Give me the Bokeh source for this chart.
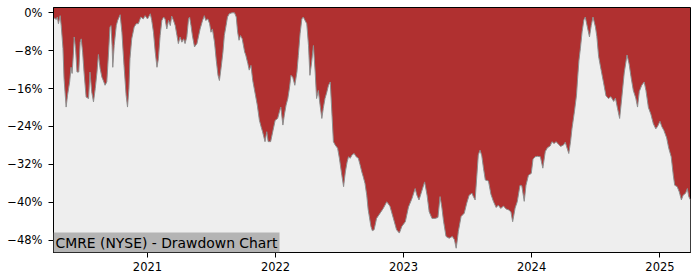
import pandas as pd
from bokeh.plotting import figure
from bokeh.models import (Range1d, FixedTicker, Label, DatetimeTickFormatter,
                          CustomJSTickFormatter, ColumnDataSource)
from bokeh.embed import file_html
from bokeh.resources import INLINE

dates = [
    "2020-04-08", "2020-04-16", "2020-04-19", "2020-04-22", "2020-04-27", "2020-04-30",
    "2020-05-05", "2020-05-08", "2020-05-14", "2020-05-18", "2020-05-24", "2020-05-28",
    "2020-05-31", "2020-06-04", "2020-06-06", "2020-06-10", "2020-06-14", "2020-06-19",
    "2020-06-23", "2020-06-26", "2020-06-30", "2020-07-04", "2020-07-10", "2020-07-17",
    "2020-07-21", "2020-07-26", "2020-07-31", "2020-08-05", "2020-08-10", "2020-08-14",
    "2020-08-19", "2020-08-24", "2020-08-28", "2020-09-02", "2020-09-07", "2020-09-12",
    "2020-09-16", "2020-09-19", "2020-09-22", "2020-09-24", "2020-09-28", "2020-10-04",
    "2020-10-08", "2020-10-15", "2020-10-20", "2020-10-26", "2020-11-01", "2020-11-05",
    "2020-11-09", "2020-11-12", "2020-11-17", "2020-11-24", "2020-11-30", "2020-12-06",
    "2020-12-13", "2020-12-20", "2020-12-25",
    "2021-01-01", "2021-01-09", "2021-01-13", "2021-01-18", "2021-01-23", "2021-01-28",
    "2021-02-01", "2021-02-06", "2021-02-11", "2021-02-16", "2021-02-20", "2021-02-25",
    "2021-03-02", "2021-03-07", "2021-03-11", "2021-03-16", "2021-03-21", "2021-03-26",
    "2021-03-30", "2021-04-04", "2021-04-09", "2021-04-14", "2021-04-18", "2021-04-23",
    "2021-04-28", "2021-05-01", "2021-05-05", "2021-05-09", "2021-05-15", "2021-05-22",
    "2021-05-26", "2021-05-31", "2021-06-07", "2021-06-12", "2021-06-16", "2021-06-22",
    "2021-06-27", "2021-07-01", "2021-07-05", "2021-07-11", "2021-07-16", "2021-07-21",
    "2021-07-25", "2021-07-30", "2021-08-04", "2021-08-08", "2021-08-13", "2021-08-17",
    "2021-08-22", "2021-08-30", "2021-09-06", "2021-09-11", "2021-09-15", "2021-09-19",
    "2021-09-23", "2021-09-28", "2021-10-05", "2021-10-08", "2021-10-14", "2021-10-18",
    "2021-10-23", "2021-10-28", "2021-11-04", "2021-11-10", "2021-11-16", "2021-11-21",
    "2021-11-25", "2021-12-02", "2021-12-07", "2021-12-11", "2021-12-18", "2021-12-24",
    "2021-12-31",
    "2022-01-07", "2022-01-12", "2022-01-16", "2022-01-22", "2022-01-26", "2022-01-31",
    "2022-02-05", "2022-02-10", "2022-02-14", "2022-02-19", "2022-02-25", "2022-03-03",
    "2022-03-07", "2022-03-12", "2022-03-17", "2022-03-21", "2022-03-26", "2022-03-31",
    "2022-04-05", "2022-04-09", "2022-04-14", "2022-04-19", "2022-04-24", "2022-04-28",
    "2022-05-03", "2022-05-08", "2022-05-13", "2022-05-17", "2022-05-22", "2022-05-27",
    "2022-06-01", "2022-06-06", "2022-06-11", "2022-06-15", "2022-06-20", "2022-06-27",
    "2022-07-02", "2022-07-09", "2022-07-14", "2022-07-19", "2022-07-24", "2022-07-28",
    "2022-08-02", "2022-08-07", "2022-08-13", "2022-08-19", "2022-08-25", "2022-08-30",
    "2022-09-04", "2022-09-08", "2022-09-13", "2022-09-18", "2022-09-22", "2022-09-30",
    "2022-10-04", "2022-10-09", "2022-10-16", "2022-10-26", "2022-11-04", "2022-11-14",
    "2022-11-23", "2022-12-03", "2022-12-12", "2022-12-20", "2022-12-27",
    "2023-01-06", "2023-01-15", "2023-01-25", "2023-02-03", "2023-02-08", "2023-02-14",
    "2023-02-20", "2023-03-02", "2023-03-09", "2023-03-15", "2023-03-23", "2023-04-01",
    "2023-04-09", "2023-04-15", "2023-04-20", "2023-04-25", "2023-05-02", "2023-05-11",
    "2023-05-20", "2023-05-26", "2023-05-31", "2023-06-04", "2023-06-06", "2023-06-14",
    "2023-06-23", "2023-06-30", "2023-07-07", "2023-07-15", "2023-07-19", "2023-07-24",
    "2023-07-29", "2023-08-02", "2023-08-07", "2023-08-12", "2023-08-17", "2023-08-22",
    "2023-08-31", "2023-09-07", "2023-09-14", "2023-09-22", "2023-09-28", "2023-10-05",
    "2023-10-13", "2023-10-20", "2023-10-27", "2023-11-03", "2023-11-08", "2023-11-15",
    "2023-11-21", "2023-11-29", "2023-12-04", "2023-12-11", "2023-12-16", "2023-12-23",
    "2023-12-31",
    "2024-01-05", "2024-01-11", "2024-01-18", "2024-01-26", "2024-02-02", "2024-02-09",
    "2024-02-15", "2024-02-23", "2024-02-28", "2024-03-05", "2024-03-11", "2024-03-18",
    "2024-03-24", "2024-04-01", "2024-04-06", "2024-04-10", "2024-04-16", "2024-04-21",
    "2024-04-25", "2024-05-02", "2024-05-08", "2024-05-11", "2024-05-15", "2024-05-19",
    "2024-05-24", "2024-05-29", "2024-06-02", "2024-06-08", "2024-06-14", "2024-06-19",
    "2024-06-24", "2024-07-01", "2024-07-05", "2024-07-10", "2024-07-17", "2024-07-24",
    "2024-07-31", "2024-08-07", "2024-08-14", "2024-08-22", "2024-08-27", "2024-09-02",
    "2024-09-08", "2024-09-14", "2024-09-21", "2024-09-29", "2024-10-05", "2024-10-11",
    "2024-10-17", "2024-10-24", "2024-10-29", "2024-11-03", "2024-11-10", "2024-11-17",
    "2024-11-22", "2024-11-29", "2024-12-06", "2024-12-13", "2024-12-20", "2024-12-25",
    "2025-01-01", "2025-01-06", "2025-01-12", "2025-01-20", "2025-01-26", "2025-02-02",
    "2025-02-08", "2025-02-12", "2025-02-19", "2025-02-25", "2025-03-03", "2025-03-08",
    "2025-03-15", "2025-03-20", "2025-03-24", "2025-03-29",
]

drawdown = [
    -1.0, -1.4, -0.9, -2.3, -0.6, -2.7,
    -7.5, -13.8, -19.9, -17.4, -14.6, -11.5,
    -12.8, -8.3, -5.1, -7.6, -12.5, -12.5,
    -6.2, -5.5, -8.3, -12.5, -17.8, -18.1,
    -12.5, -16.7, -18.8, -16.0, -12.5, -8.8,
    -11.8, -13.6, -14.3, -15.3, -14.6, -8.3,
    -3.0, -2.7, -6.9, -11.5, -6.9, -2.7,
    -1.6, -0.4, -4.1, -11.1, -17.4, -19.9,
    -16.0, -9.7, -5.5, -3.0, -2.3, -2.3,
    -0.9, -1.3, -0.6,
    -1.3, -0.2, -1.6, -4.1, -8.3, -11.5,
    -9.7, -4.8, -1.6, -0.9, -1.3, -3.4,
    -1.6, -2.7, -0.7, -1.6, -2.7, -4.8,
    -6.5, -5.1, -6.2, -5.5, -6.5, -5.1,
    -1.3, -0.9, -2.7, -4.8, -7.2, -6.5,
    -5.1, -3.4, -1.6, -0.6, -1.6, -1.3,
    -2.3, -4.1, -3.4, -6.2, -10.0, -13.2,
    -14.3, -11.5, -8.3, -4.8, -2.7, -0.9,
    -0.2, 0.0, 0.0, -0.9, -4.1, -5.8,
    -4.8, -5.5, -8.3, -8.9, -10.7, -12.1,
    -11.1, -14.3, -17.1, -19.5, -22.7, -24.1,
    -25.1, -27.2, -25.1, -27.2, -27.2, -25.1,
    -22.7,
    -22.3, -20.9, -19.9, -23.7, -21.6, -19.5,
    -18.1, -15.7, -13.2, -13.6, -15.3, -12.5,
    -9.0, -4.4, -1.3, -0.9, -1.6, -2.3,
    -6.9, -13.2, -10.4, -6.9, -12.5, -18.1,
    -16.4, -19.5, -22.3, -20.2, -18.1, -16.8,
    -15.3, -14.6, -21.6, -27.2, -27.9, -28.6,
    -30.7, -34.3, -36.7, -33.6, -31.5, -30.4,
    -30.7, -30.0, -29.7, -30.4, -30.7, -32.1,
    -33.6, -34.6, -36.0, -38.5, -41.5, -45.1,
    -46.0, -45.8, -43.4, -42.3, -41.3, -39.9,
    -40.8, -43.4, -45.8, -46.5, -45.1,
    -44.1, -41.0, -39.2, -37.1, -38.5, -39.5,
    -38.1, -35.7, -38.5, -42.0, -43.4, -43.4,
    -43.2, -38.8, -41.0, -44.0, -47.2, -47.6,
    -47.2, -47.9, -49.7, -47.5, -46.2, -43.0,
    -42.3, -40.2, -38.5, -38.1, -38.8, -39.5,
    -34.3, -30.0, -29.0, -30.2, -32.9, -35.3,
    -35.5, -38.3, -39.8, -41.1, -40.6, -41.3,
    -40.8, -41.4, -41.6, -42.0, -44.1, -41.2,
    -39.9, -36.4, -36.5, -39.8, -36.4, -34.3,
    -33.9,
    -30.9, -30.4, -30.3, -30.4, -32.8, -29.3,
    -28.5, -28.1, -27.2, -27.6, -27.2, -27.8,
    -28.2, -27.9, -27.3, -28.3, -29.7, -27.2,
    -24.5, -20.9, -17.4, -14.0, -10.0, -7.6,
    -4.0, -1.5, -0.9, -3.0, -5.1, -2.7,
    -0.9, -3.0, -5.0, -9.2, -12.0, -14.7,
    -17.5, -18.1, -17.7, -18.7, -18.0, -20.2,
    -22.3, -18.0, -12.7, -8.9, -10.8, -13.8,
    -16.4, -18.0, -19.9, -16.6, -15.3, -14.6,
    -16.4, -20.0, -21.4, -23.4, -24.5, -24.0,
    -22.9, -24.0, -24.8, -26.4, -28.6, -30.4,
    -34.3, -36.4, -36.7, -37.8, -39.5, -38.5,
    -38.1, -37.1, -38.8, -39.5,
]

y_ticks = [0, -8, -16, -24, -32, -40, -48]
x_tick_years = [2021, 2022, 2023, 2024, 2025]
title_text = "CMRE (NYSE) - Drawdown Chart"

x_start = pd.Timestamp(dates[0])
x_end = pd.Timestamp(dates[-1])
y_bottom, y_top = -50.6, 1.12

src = ColumnDataSource(dict(date=pd.to_datetime(dates), dd=drawdown))

p = figure(width=700, height=280, x_axis_type="datetime",
           x_range=Range1d(x_start, x_end), y_range=Range1d(y_bottom, y_top),
           output_backend="svg", toolbar_location=None,
           min_border_left=53, min_border_right=10,
           min_border_top=7, min_border_bottom=28)

p.background_fill_color = "#b03030"
p.border_fill_color = "white"
p.outline_line_color = "black"
p.outline_line_width = 1
p.grid.visible = False

p.varea(x="date", y1="dd", y2=y_bottom, source=src, fill_color="#eeeeee")
p.line(x="date", y="dd", source=src, line_color="#8e8e8e", line_width=1)

p.yaxis.ticker = FixedTicker(ticks=y_ticks)
p.yaxis.formatter = CustomJSTickFormatter(
    code='return (tick < 0 ? "\\u2212" : "") + Math.abs(tick) + "%";')
p.xaxis.ticker = FixedTicker(
    ticks=[pd.Timestamp(f"{yr}-01-01").value / 1e6 for yr in x_tick_years])
p.xaxis.formatter = DatetimeTickFormatter(
    years="%Y", months="%Y", days="%Y", hours="%Y", minutes="%Y",
    seconds="%Y", milliseconds="%Y", microseconds="%Y", hourmin="%Y",
    minsec="%Y")

for ax in (p.xaxis, p.yaxis):
    ax.major_label_text_font = "DejaVu Sans"
    ax.major_label_text_font_size = "11.5px"
    ax.major_label_text_color = "black"
    ax.axis_line_color = "black"
    ax.axis_line_width = 1
    ax.major_tick_line_color = "black"
    ax.major_tick_out = 5
    ax.major_tick_in = 0
    ax.minor_tick_line_color = None
p.yaxis.major_label_standoff = 6
p.xaxis.major_label_standoff = 4

lbl = Label(x=x_start.value / 1e6, y=y_bottom, text=title_text,
            text_font="DejaVu Sans", text_font_size="13.9px",
            text_color="black", text_baseline="bottom", text_align="left",
            background_fill_color="#b4b4b4", padding=2)
p.add_layout(lbl)

open("out.html", "w").write(file_html(p, INLINE))
